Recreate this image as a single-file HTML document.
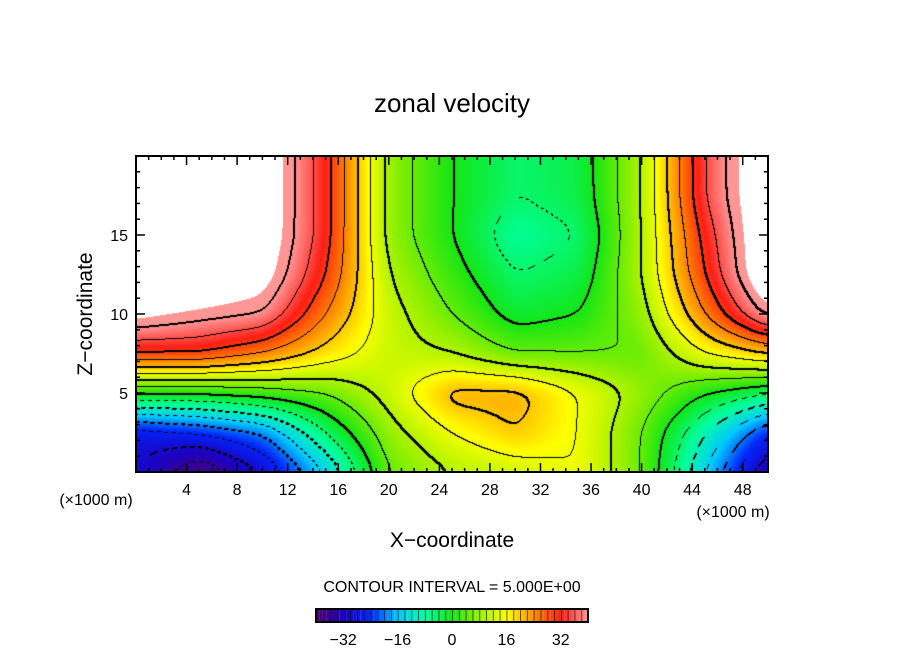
<!DOCTYPE html>
<html><head><meta charset="utf-8"><style>
body{margin:0;background:#fff;width:904px;height:654px;overflow:hidden;font-family:"Liberation Sans",sans-serif}
</style></head><body>
<svg width="904" height="654" xmlns="http://www.w3.org/2000/svg" style="position:absolute;left:0;top:0">
<text x="452" y="112" font-size="26" text-anchor="middle">zonal velocity</text>
<foreignObject x="136" y="156" width="632" height="316"><canvas id="cv" width="632" height="316" xmlns="http://www.w3.org/1999/xhtml"></canvas></foreignObject>
<rect x="136" y="156" width="632" height="316" fill="none" stroke="#000" stroke-width="2"/>
<g id="ticks"></g>
<text x="96" y="505" font-size="16" text-anchor="middle">(×1000 m)</text>
<text x="733" y="517" font-size="16" text-anchor="middle">(×1000 m)</text>
<text x="452" y="547" font-size="21" text-anchor="middle">X−coordinate</text>
<text transform="translate(92,314) rotate(-90)" font-size="21" text-anchor="middle">Z−coordinate</text>
<text x="452" y="592" font-size="16" text-anchor="middle">CONTOUR INTERVAL = 5.000E+00</text>
<g id="cbar"></g>
</svg>
<script>
const xs=[0,5,10,15,20,25,30,35,40,45,50];
const zs=[0,2.5,5,7.5,10,12.5,15,17.5,20];
const vals=[
[-30,-40,-30,-15,5,10,12,15,5,-15,-35],
[-28,-25,-20,-5,8,15,20,15,5,-10,-25],
[0,0,2,5,12,22,22,15,8,0,-5],
[30,30,25,18,12,10,5,5,5,15,20],
[45,42,40,25,12,5,-2,0,8,25,42],
[50,50,46,30,10,2,-5,-3,10,30,50],
[50,50,48,32,8,0,-8,-5,10,32,50],
[50,50,48,32,8,0,-5,-3,10,35,50],
[50,50,48,32,8,0,-5,-3,10,35,50]];
const xTicks=[4,8,12,16,20,24,28,32,36,40,44,48];
const zTicks=[5,10,15];
const cbTicks=[-32,-16,0,16,32];
const X0=136,X1=768,Y0=472,Y1=156;
const sx=x=>X0+(x-0)/50*(X1-X0), sz=z=>Y0-(z-0)/20*(Y0-Y1);
const stops=[[-40,[80,0,120]],[-32,[30,0,190]],[-24,[0,40,255]],[-16,[0,200,255]],[-8,[0,255,160]],[0,[20,230,20]],[8,[150,240,0]],[16,[255,255,0]],[24,[255,140,0]],[32,[255,30,20]],[40,[255,150,150]]];
function cmap(v){if(v>43)return[255,255,255];v=Math.max(-40,Math.min(40,v));for(let i=0;i<stops.length-1;i++){const a=stops[i],b=stops[i+1];if(v<=b[0]){const t=(v-a[0])/(b[0]-a[0]);return a[1].map((c,k)=>Math.round(c+(b[1][k]-c)*t));}}return stops[stops.length-1][1];}
function field(x,z){let i=0;while(i<xs.length-2&&x>xs[i+1])i++;let j=0;while(j<zs.length-2&&z>zs[j+1])j++;const tx=(x-xs[i])/(xs[i+1]-xs[i]),tz=(z-zs[j])/(zs[j+1]-zs[j]);return (vals[j][i]*(1-tx)+vals[j][i+1]*tx)*(1-tz)+(vals[j+1][i]*(1-tx)+vals[j+1][i+1]*tx)*tz;}
const W=632,H=316,cv=document.getElementById('cv'),ctx=cv.getContext('2d'),img=ctx.createImageData(W,H);
let F=new Float32Array(W*H);
for(let j=0;j<H;j++)for(let i=0;i<W;i++)F[j*W+i]=field(i/W*50,(H-j)/H*20);
function blur(A,R){const B=new Float32Array(W*H),C=new Float32Array(W*H);
for(let j=0;j<H;j++)for(let i=0;i<W;i++){let s=0,n=0;for(let d=-R;d<=R;d++){const ii=Math.min(W-1,Math.max(0,i+d));s+=A[j*W+ii];n++;}B[j*W+i]=s/n;}
for(let j=0;j<H;j++)for(let i=0;i<W;i++){let s=0,n=0;for(let d=-R;d<=R;d++){const jj=Math.min(H-1,Math.max(0,j+d));s+=B[jj*W+i];n++;}C[j*W+i]=s/n;}return C;}
F=blur(blur(F,10),8);
const line=new Uint8Array(W*H);
for(let j=0;j<H-1;j++)for(let i=0;i<W-1;i++){const k=Math.floor(F[j*W+i]/5);for(const [di,dj] of [[1,0],[0,1]]){const k2=Math.floor(F[(j+dj)*W+i+di]/5);if(k2!==k){const L=Math.max(k,k2)*5;if(L>40)continue;if(L<0&&((i+j)>>2)&1)continue;line[j*W+i]=1;if(L%10===0){line[j*W+i+1]=1;line[(j+1)*W+i]=1;}}}}
for(let p=0;p<W*H;p++){const c=line[p]?[0,0,0]:cmap(F[p]);img.data[p*4]=c[0];img.data[p*4+1]=c[1];img.data[p*4+2]=c[2];img.data[p*4+3]=255;}
ctx.putImageData(img,0,0);
const NS='http://www.w3.org/2000/svg',tg=document.getElementById('ticks');
function mk(tag,at,par){const e=document.createElementNS(NS,tag);for(const k in at)e.setAttribute(k,at[k]);par.appendChild(e);return e;}
for(let x=1;x<50;x++){const big=x%4===0;const l=big?9:4;
const t1=mk('line',{x1:sx(x),x2:sx(x),y1:Y0,y2:Y0-l,stroke:'#000','stroke-width':1.5},tg);


const t2=mk('line',{x1:sx(x),x2:sx(x),y1:Y1,y2:Y1+l,stroke:'#000','stroke-width':1.5},tg);

}
for(const x of xTicks){const t=mk('text',{x:sx(x),y:495,'font-size':16,'text-anchor':'middle'},tg);t.textContent=x;

}
for(let z=1;z<20;z++){const big=z%5===0;const l=big?9:4;
const t1=mk('line',{x1:X0,x2:X0+l,y1:sz(z),y2:sz(z),stroke:'#000','stroke-width':1.5},tg);


const t2=mk('line',{x1:X1,x2:X1-l,y1:sz(z),y2:sz(z),stroke:'#000','stroke-width':1.5},tg);

}
for(const z of zTicks){const t=mk('text',{x:128,y:sz(z)+6,'font-size':16,'text-anchor':'end'},tg);t.textContent=z;

}
const cb=document.getElementById('cbar'),C0=316,C1=588,cw=(C1-C0)/80;
for(let k=0;k<80;k++){const c=cmap(-40+k+0.5);const r=mk('rect',{x:C0+k*cw,y:609,width:cw,height:13,fill:`rgb(${c})`},cb);


if(k%2===0){const s=mk('rect',{x:C0+k*cw,y:609,width:1,height:13,fill:'#000','fill-opacity':0.6},cb);

}}
const fr=mk('rect',{x:C0,y:609,width:C1-C0,height:13,fill:'none',stroke:'#000','stroke-width':2},cb);


for(const v of cbTicks){const t=mk('text',{x:C0+(v+40)/80*(C1-C0),y:645,'font-size':16,'text-anchor':'middle'},cb);t.textContent=v<0?'−'+(-v):v;

}
</script>
</body></html>
